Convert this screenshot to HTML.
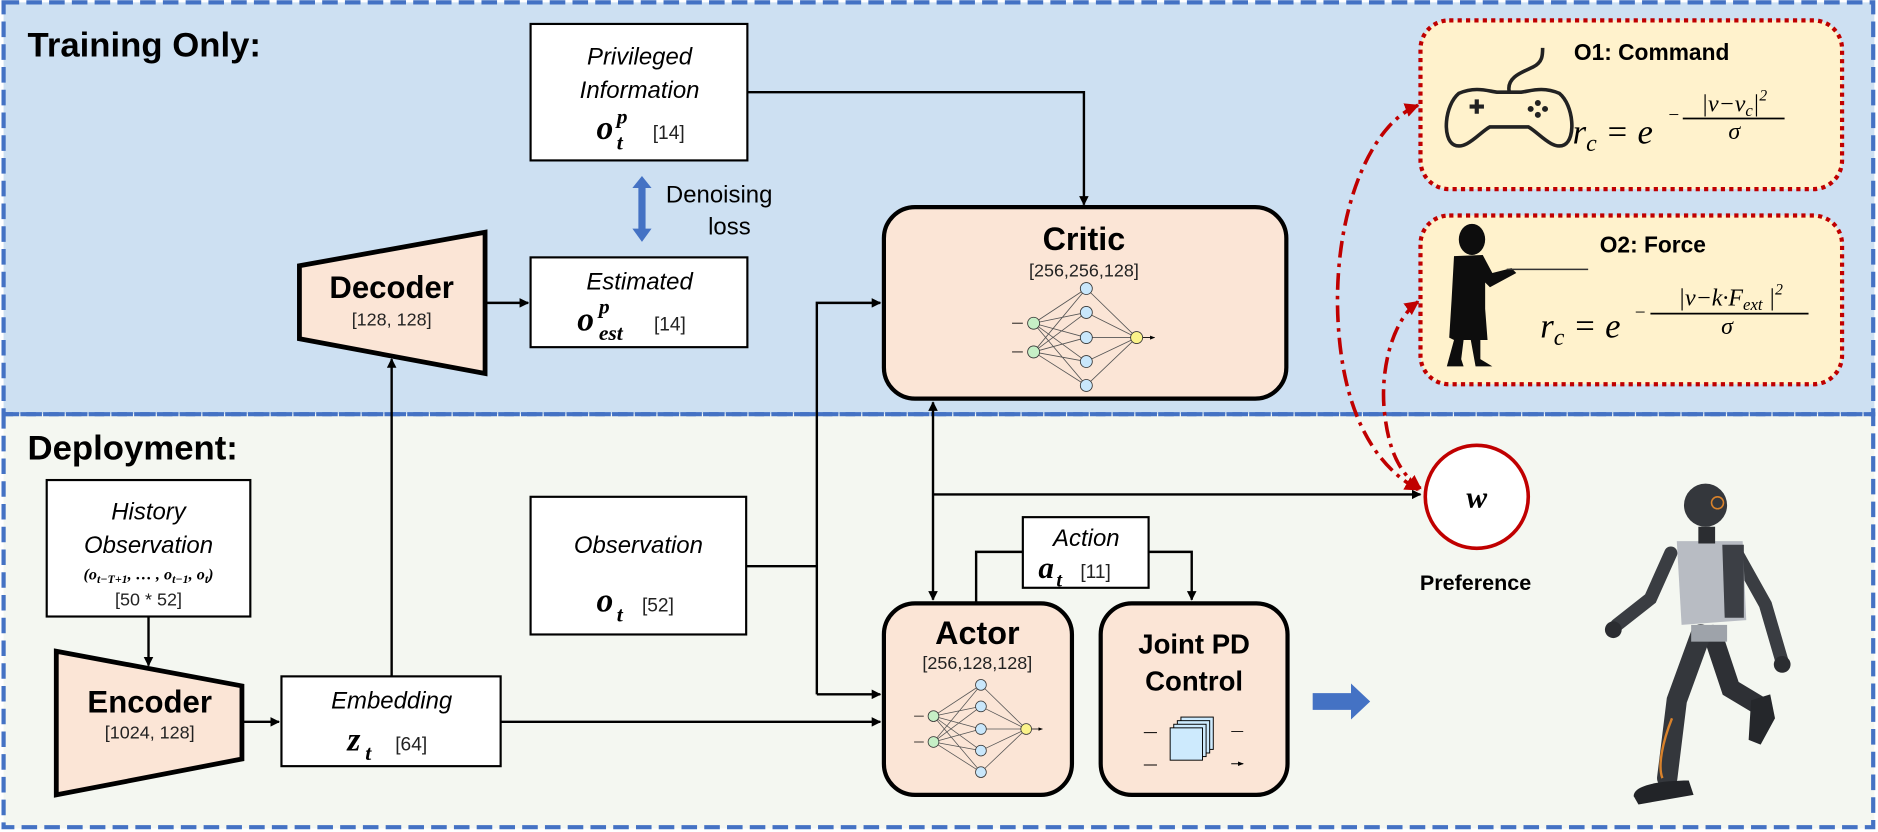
<!DOCTYPE html>
<html><head><meta charset="utf-8"><style>
html,body{margin:0;padding:0;background:#fff;}
svg{display:block;}
text{font-family:"Liberation Sans",sans-serif;}
.b{font-weight:bold;}
.m{font-family:"Liberation Serif",serif;font-style:italic;font-weight:bold;}
.mi{font-family:"Liberation Serif",serif;font-style:italic;}
.it{font-style:italic;}
</style></head><body>
<svg width="1878" height="832" viewBox="0 0 1568 695" preserveAspectRatio="none" xmlns="http://www.w3.org/2000/svg">
<defs>
<marker id="ar" viewBox="0 0 10 10" refX="9" refY="5" markerWidth="4" markerHeight="4" orient="auto-start-reverse" markerUnits="strokeWidth"><path d="M0,0 L10,5 L0,10 z" fill="#000"/></marker>
<marker id="rr" viewBox="0 0 10 10" refX="9" refY="5" markerWidth="4" markerHeight="4" orient="auto-start-reverse" markerUnits="strokeWidth"><path d="M0,0 L10,5 L0,10 z" fill="#c00000"/></marker>
<marker id="sa" viewBox="0 0 10 10" refX="9" refY="5" markerWidth="6" markerHeight="6" orient="auto" markerUnits="strokeWidth"><path d="M0,1 L10,5 L0,9 z" fill="#000"/></marker>
<g id="nn">
 <g stroke="#555" stroke-width="0.7" fill="none">
  <path d="M-44,-12 L0,-41 M-44,-12 L0,-21 M-44,-12 L0,0 M-44,-12 L0,20 M-44,-12 L0,40 M-44,12 L0,-41 M-44,12 L0,-21 M-44,12 L0,0 M-44,12 L0,20 M-44,12 L0,40 M0,-41 L42,0 M0,-21 L42,0 M0,0 L42,0 M0,20 L42,0 M0,40 L42,0"/>
  <path d="M-62,-12 L-53,-12 M-62,12 L-53,12 M47,0 L57,0" stroke="#000" marker-end="url(#sa)"/>
 </g>
 <g stroke="#333" stroke-width="0.7">
  <circle cx="-44" cy="-12" r="5" fill="#c6efc6"/><circle cx="-44" cy="12" r="5" fill="#c6efc6"/>
  <circle cx="0" cy="-41" r="5" fill="#c9e7fb"/><circle cx="0" cy="-21" r="5" fill="#c9e7fb"/><circle cx="0" cy="0" r="5" fill="#c9e7fb"/><circle cx="0" cy="20" r="5" fill="#c9e7fb"/><circle cx="0" cy="40" r="5" fill="#c9e7fb"/>
  <circle cx="42" cy="0" r="5" fill="#fbf38a"/>
 </g>
</g>
</defs>

<rect x="3" y="2" width="1562" height="344" fill="#cde0f2"/>
<rect x="3" y="346" width="1562" height="346" fill="#f4f7f1"/>
<rect x="3" y="2" width="1561" height="344" fill="none" stroke="#4472c4" stroke-width="3.5" stroke-dasharray="13,6"/>
<rect x="3" y="346" width="1561" height="345" fill="none" stroke="#4472c4" stroke-width="3.5" stroke-dasharray="13,6"/>

<text x="23" y="47" class="b" font-size="29">Training Only:</text>
<text x="23" y="384" class="b" font-size="29">Deployment:</text>

<!-- Privileged -->
<rect x="443" y="20" width="181" height="114" fill="#fff" stroke="#000" stroke-width="1.8"/>
<text x="534" y="54" class="it" font-size="20" text-anchor="middle">Privileged</text>
<text x="534" y="82" class="it" font-size="20" text-anchor="middle">Information</text>
<text x="498" y="116" class="m" font-size="28">o</text><text x="515" y="103" class="m" font-size="18">p</text><text x="515" y="125" class="m" font-size="18">t</text>
<text x="545" y="116" font-size="16" fill="#222">[14]</text>

<path d="M536,147 L544,157 L539,157 L539,191 L544,191 L536,202 L528,191 L533,191 L533,157 L528,157 Z" fill="#4472c4"/>
<text x="556" y="169" font-size="20">Denoising</text>
<text x="609" y="196" font-size="20" text-anchor="middle">loss</text>

<!-- Estimated -->
<rect x="443" y="215" width="181" height="75" fill="#fff" stroke="#000" stroke-width="1.8"/>
<text x="534" y="242" class="it" font-size="20" text-anchor="middle">Estimated</text>
<text x="482" y="276" class="m" font-size="28">o</text><text x="500" y="262" class="m" font-size="18">p</text><text x="500" y="284" class="m" font-size="18">est</text>
<text x="546" y="276" font-size="16" fill="#222">[14]</text>

<!-- Decoder -->
<polygon points="250,222 405,194 405,312 250,283" fill="#fbe5d6" stroke="#000" stroke-width="4"/>
<text x="327" y="249" class="b" font-size="26" text-anchor="middle">Decoder</text>
<text x="327" y="272" font-size="15" text-anchor="middle" fill="#222">[128, 128]</text>

<!-- History -->
<rect x="39" y="401" width="170" height="114" fill="#fff" stroke="#000" stroke-width="1.8"/>
<text x="124" y="434" class="it" font-size="20" text-anchor="middle">History</text>
<text x="124" y="462" class="it" font-size="20" text-anchor="middle">Observation</text>
<text x="124" y="484" class="m" font-size="13.5" text-anchor="middle">(o<tspan font-size="10" dy="3">t−T+1</tspan><tspan dy="-3">, … , o</tspan><tspan font-size="10" dy="3">t−1</tspan><tspan dy="-3">, o</tspan><tspan font-size="10" dy="3">t</tspan><tspan dy="-3">)</tspan></text>
<text x="124" y="506" font-size="15" text-anchor="middle" fill="#222">[50 * 52]</text>

<!-- Encoder -->
<polygon points="47,544 202,573 202,634 47,664" fill="#fbe5d6" stroke="#000" stroke-width="4"/>
<text x="125" y="595" class="b" font-size="26" text-anchor="middle">Encoder</text>
<text x="125" y="617" font-size="15" text-anchor="middle" fill="#222">[1024, 128]</text>

<!-- Embedding -->
<rect x="235" y="565" width="183" height="75" fill="#fff" stroke="#000" stroke-width="1.8"/>
<text x="327" y="592" class="it" font-size="20" text-anchor="middle">Embedding</text>
<text x="290" y="627" class="m" font-size="28">z</text><text x="305" y="635" class="m" font-size="18">t</text>
<text x="330" y="627" font-size="16" fill="#222">[64]</text>

<!-- Observation -->
<rect x="443" y="415" width="180" height="115" fill="#fff" stroke="#000" stroke-width="1.8"/>
<text x="533" y="462" class="it" font-size="20" text-anchor="middle">Observation</text>
<text x="498" y="511" class="m" font-size="28">o</text><text x="515" y="519" class="m" font-size="18">t</text>
<text x="536" y="511" font-size="16" fill="#222">[52]</text>

<!-- Critic -->
<rect x="738" y="173" width="336" height="160" rx="26" fill="#fbe5d6" stroke="#000" stroke-width="3.5"/>
<text x="905" y="209" class="b" font-size="27" text-anchor="middle">Critic</text>
<text x="905" y="231" font-size="15" text-anchor="middle" fill="#222">[256,256,128]</text>
<use href="#nn" x="907" y="282"/>

<!-- Actor -->
<rect x="738" y="504" width="157" height="160" rx="26" fill="#fbe5d6" stroke="#000" stroke-width="3.5"/>
<text x="816" y="538" class="b" font-size="27" text-anchor="middle">Actor</text>
<text x="816" y="559" font-size="15" text-anchor="middle" fill="#222">[256,128,128]</text>
<use href="#nn" transform="translate(819,609) scale(0.9)"/>

<!-- Joint PD -->
<rect x="919" y="504" width="156" height="160" rx="26" fill="#fbe5d6" stroke="#000" stroke-width="3.5"/>
<text x="997" y="546" class="b" font-size="23" text-anchor="middle">Joint PD</text>
<text x="997" y="577" class="b" font-size="23" text-anchor="middle">Control</text>
<g stroke="#000" stroke-width="0.8" fill="#cdeafd">
<rect x="986" y="599" width="27" height="27"/><rect x="983" y="602" width="27" height="27"/><rect x="980" y="605" width="27" height="27"/><rect x="977" y="608" width="27" height="27"/>
</g>
<g stroke="#000" stroke-width="0.8" marker-end="url(#sa)"><path d="M955,612 L966,612 M955,639 L966,639 M1028,611 L1038,611 M1028,638 L1038,638"/></g>

<!-- Action -->
<rect x="854" y="432" width="105" height="59" fill="#fff" stroke="#000" stroke-width="1.8"/>
<text x="907" y="456" class="it" font-size="20" text-anchor="middle">Action</text>
<text x="867" y="483" class="m" font-size="26">a</text><text x="882" y="490" class="m" font-size="17">t</text>
<text x="902" y="483" font-size="16" fill="#222">[11]</text>

<g stroke="#000" stroke-width="2" fill="none">
<path d="M624,77 L905,77 L905,171" marker-end="url(#ar)"/>
<path d="M405,253 L441,253" marker-end="url(#ar)"/>
<path d="M327,565 L327,300" marker-end="url(#ar)"/>
<path d="M124,515 L124,556" marker-end="url(#ar)"/>
<path d="M202,603 L233,603" marker-end="url(#ar)"/>
<path d="M418,603 L735,603" marker-end="url(#ar)"/>
<path d="M623,473 L682,473"/>
<path d="M682,580 L682,253 L735,253" marker-end="url(#ar)"/>
<path d="M682,580 L735,580" marker-end="url(#ar)"/>
<path d="M779,336 L779,501" marker-start="url(#ar)" marker-end="url(#ar)"/>
<path d="M779,413 L1186,413" marker-end="url(#ar)"/>
<path d="M815,504 L815,461 L854,461"/>
<path d="M959,461 L995,461 L995,501" marker-end="url(#ar)"/>
</g>

<path d="M1096,579 L1128,579 L1128,571 L1144,586 L1128,601 L1128,593 L1096,593 Z" fill="#4472c4"/>

<!-- O1 / O2 -->
<rect x="1186" y="17" width="352" height="141" rx="24" fill="#fff2cc" stroke="#c00000" stroke-width="3.5" stroke-dasharray="3.5,3.5"/>
<rect x="1186" y="180" width="352" height="141" rx="24" fill="#fff2cc" stroke="#c00000" stroke-width="3.5" stroke-dasharray="3.5,3.5"/>
<text x="1379" y="50" class="b" font-size="19" text-anchor="middle">O1: Command</text>
<text x="1380" y="211" class="b" font-size="19" text-anchor="middle">O2: Force</text>
<!-- gamepad -->
<g fill="none" stroke="#222" stroke-width="3">
<path d="M1218,78 C1232,72 1242,76 1250,77 L1270,77 C1278,76 1288,72 1302,78 C1314,88 1316,116 1306,121 C1296,126 1284,110 1276,106 L1244,106 C1236,110 1224,126 1214,121 C1204,116 1206,88 1218,78 Z"/>
<path d="M1260,76 C1258,64 1272,60 1280,56 C1288,52 1288,46 1288,40"/>
</g>
<path d="M1227,89 L1239,89 M1233,83 L1233,95" stroke="#222" stroke-width="3.5"/>
<g fill="#222"><circle cx="1284" cy="86" r="2.5"/><circle cx="1278" cy="91" r="2.5"/><circle cx="1290" cy="91" r="2.5"/><circle cx="1284" cy="96" r="2.5"/></g>
<!-- kid -->
<g fill="#0d0d0d">
<ellipse cx="1229" cy="200" rx="11" ry="13"/>
<path d="M1214,214 L1238,213 L1246,228 L1262,224 L1266,228 L1244,240 L1240,236 L1240,258 L1242,284 L1236,284 L1236,300 L1246,306 L1232,306 L1228,284 L1222,284 L1220,300 L1222,306 L1208,306 L1214,284 L1210,282 L1212,250 Z"/>
</g>
<line x1="1258" y1="225" x2="1326" y2="225" stroke="#333" stroke-width="1.2"/>
<!-- formulas -->
<text x="1313" y="120" class="mi" font-size="29">r<tspan font-size="20" dy="6">c</tspan><tspan dy="-6"> = e</tspan></text>
<text x="1392" y="101" class="mi" font-size="16">−</text>
<text x="1448" y="93" class="mi" font-size="20" text-anchor="middle">|v−v<tspan font-size="14" dy="4">c</tspan><tspan dy="-4">|</tspan><tspan font-size="13" dy="-9">2</tspan></text>
<line x1="1405" y1="99" x2="1490" y2="99" stroke="#000" stroke-width="1.4"/>
<text x="1448" y="116" class="mi" font-size="20" text-anchor="middle">σ</text>

<text x="1286" y="282" class="mi" font-size="29">r<tspan font-size="20" dy="6">c</tspan><tspan dy="-6"> = e</tspan></text>
<text x="1364" y="266" class="mi" font-size="16">−</text>
<text x="1445" y="255" class="mi" font-size="20" text-anchor="middle">|v−k·F<tspan font-size="14" dy="4">ext</tspan><tspan dy="-4"> |</tspan><tspan font-size="13" dy="-9">2</tspan></text>
<line x1="1378" y1="262" x2="1510" y2="262" stroke="#000" stroke-width="1.4"/>
<text x="1442" y="279" class="mi" font-size="20" text-anchor="middle">σ</text>

<g fill="none" stroke="#c00000" stroke-width="3" stroke-dasharray="14,5,3,5">
<path d="M1184,88 C1140,105 1110,190 1118,280 C1124,350 1150,390 1184,409" marker-start="url(#rr)" marker-end="url(#rr)"/>
<path d="M1184,252 C1162,268 1152,310 1156,345 C1160,380 1170,396 1186,408" marker-start="url(#rr)" marker-end="url(#rr)"/>
</g>

<circle cx="1233" cy="415" r="43" fill="#fff" stroke="#c00000" stroke-width="3"/>
<text x="1233" y="424" class="m" font-size="26" text-anchor="middle">w</text>
<text x="1232" y="493" class="b" font-size="18" text-anchor="middle">Preference</text>

<!-- robot -->
<g>
<path d="M1395,462 L1378,500 L1350,522" stroke="#3a3d42" stroke-width="11" stroke-linecap="round" fill="none"/>
<circle cx="1347" cy="526" r="7" fill="#2b2d31"/>
<path d="M1450,462 L1474,505 L1488,553" stroke="#3a3d42" stroke-width="11" stroke-linecap="round" fill="none"/>
<circle cx="1488" cy="555" r="7" fill="#2b2d31"/>
<path d="M1430,530 L1445,575 L1470,590" stroke="#2e3035" stroke-width="16" stroke-linecap="round" fill="none"/>
<path d="M1462,585 L1478,580 L1482,600 L1470,622 L1460,618 Z" fill="#25272b"/>
<path d="M1420,530 L1400,585 L1392,650" stroke="#34373c" stroke-width="17" stroke-linecap="round" fill="none"/>
<path d="M1364,665 C1364,655 1390,652 1410,652 L1414,664 L1368,672 Z" fill="#222428"/>
<path d="M1396,600 C1388,620 1384,640 1388,650" stroke="#d9822b" stroke-width="2" fill="none"/>
<path d="M1400,452 L1455,452 L1458,518 L1404,522 Z" fill="#b8bcc3"/>
<path d="M1438,455 L1456,455 L1456,516 L1440,516 Z" fill="#3c3f45"/>
<rect x="1412" y="522" width="30" height="14" fill="#9ea3aa"/>
<rect x="1418" y="440" width="14" height="14" fill="#2b2d31"/>
<circle cx="1424" cy="422" r="18" fill="#34373c"/>
<circle cx="1434" cy="420" r="5" fill="none" stroke="#d9822b" stroke-width="1.3"/>
</g>
</svg>
</body></html>
